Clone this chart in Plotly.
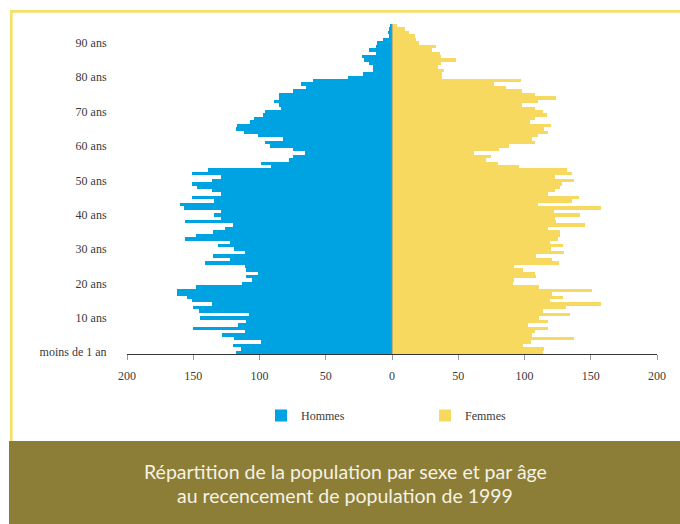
import plotly.graph_objects as go

ages = list(range(0, 96))
hommes = [118, 114, 120, 99, 119, 128, 111, 150, 116, 110,
          145, 108, 146, 150, 136, 151, 155, 162, 162, 148,
          113, 106, 110, 101, 110, 111, 141, 122, 135, 111,
          119, 131, 122, 156, 148, 135, 126, 120, 156, 129,
          134, 129, 157, 160, 134, 151, 129, 136, 147, 151,
          136, 129, 151, 139, 91, 99, 78, 75, 66, 75,
          92, 96, 82, 101, 112, 118, 117, 107, 104, 97,
          96, 84, 85, 89, 85, 85, 75, 65, 69, 60,
          33, 22, 14, 14, 17, 21, 23, 12, 17, 12,
          11, 7, 2, 3, 2, 1]
femmes = [114, 115, 99, 105, 137, 106, 108, 118, 103, 118,
          111, 134, 114, 131, 158, 119, 129, 121, 151, 111,
          91, 92, 109, 108, 99, 92, 126, 121, 109, 130,
          120, 129, 119, 125, 127, 127, 118, 146, 124, 123,
          142, 122, 158, 110, 136, 141, 118, 123, 127, 128,
          137, 123, 136, 132, 96, 80, 71, 75, 62, 81,
          88, 108, 106, 110, 118, 115, 120, 104, 108, 117,
          114, 108, 98, 110, 124, 108, 98, 86, 77, 97,
          38, 38, 39, 35, 37, 48, 37, 36, 30, 33,
          20, 18, 17, 13, 10, 4]

y_tickvals = [0, 10, 20, 30, 40, 50, 60, 70, 80, 90]
y_ticktext = ["moins de 1 an", "10 ans", "20 ans", "30 ans", "40 ans",
              "50 ans", "60 ans", "70 ans", "80 ans", "90 ans"]
x_tickvals = [-200, -150, -100, -50, 0, 50, 100, 150, 200]
x_ticktext = ["200", "150", "100", "50", "0", "50", "100", "150", "200"]

title_line1 = "Répartition de la population par sexe et par âge"
title_line2 = "au recencement de population de 1999"

BLUE = "#00a3e1"
YELLOW = "#f7d960"
OLIVE = "#8c7e37"

W, H = 680, 524
ML, MR, MT, MB = 127, 23, 24, 170
PW, PH = W - ML - MR, H - MT - MB


def px(x):
    return (x - ML) / PW


def py(y):
    return (H - MB - y) / PH


fig = go.Figure()
fig.add_trace(go.Bar(
    y=ages, x=[-v for v in hommes], orientation="h", name="Hommes",
    marker=dict(color=BLUE, line=dict(width=0)),
    customdata=hommes, hovertemplate="%{y} ans: %{customdata}<extra>Hommes</extra>",
))
fig.add_trace(go.Bar(
    y=ages, x=femmes, orientation="h", name="Femmes",
    marker=dict(color=YELLOW, line=dict(width=0)),
    hovertemplate="%{y} ans: %{x}<extra>Femmes</extra>",
))

serif = "Liberation Serif, Times New Roman, serif"
title_font = dict(family="Lato, Liberation Sans, sans-serif", size=19.5, color="#f6f2e4")

fig.update_layout(
    width=W, height=H,
    margin=dict(l=ML, r=MR, t=MT, b=MB, pad=0),
    paper_bgcolor="white", plot_bgcolor="white",
    barmode="relative", bargap=0,
    font=dict(family=serif, size=12, color="#3a3a3a"),
    showlegend=True,
    legend=dict(
        orientation="h", x=px(261), xanchor="left", y=py(401), yanchor="top",
        entrywidth=119, entrywidthmode="pixels", itemwidth=30,
        font=dict(family=serif, size=12, color="#3a3a3a"),
        bgcolor="rgba(0,0,0,0)", borderwidth=0,
    ),
    xaxis=dict(
        range=[-200, 200], tickvals=x_tickvals, ticktext=x_ticktext,
        showgrid=False, zeroline=False,
        showline=True, linecolor="#333333", linewidth=1.3,
        ticks="outside", ticklen=5, tickwidth=1, tickcolor="#999999",
        ticklabelstandoff=5,
        tickfont=dict(family=serif, size=12, color="#3a3a3a"),
        fixedrange=True,
    ),
    yaxis=dict(
        range=[-0.5, 95.5], tickvals=y_tickvals, ticktext=y_ticktext,
        showgrid=False, zeroline=False, showline=False,
        ticks="outside", ticklen=17, tickcolor="rgba(0,0,0,0)",
        tickfont=dict(family=serif, size=12, color="#3a3a3a"),
        fixedrange=True,
    ),
    shapes=[
        dict(type="line", xref="x", yref="paper", x0=0, x1=0, y0=0, y1=1,
             line=dict(color="#8a8a8a", width=1), layer="above"),
        dict(type="line", xref="paper", yref="paper", x0=px(10), x1=px(680),
             y0=py(11.3), y1=py(11.3), line=dict(color="#f9de6c", width=2.7)),
        dict(type="line", xref="paper", yref="paper", x0=px(11.3), x1=px(11.3),
             y0=py(10), y1=py(441), line=dict(color="#f9de6c", width=2.7)),
        dict(type="rect", xref="paper", yref="paper", x0=px(9), x1=px(681),
             y0=py(441), y1=py(525), fillcolor=OLIVE, line=dict(width=0)),
    ],
    annotations=[
        dict(text=title_line1, xref="paper", yref="paper", x=px(345), y=py(471),
             xanchor="center", yanchor="middle", showarrow=False, font=title_font),
        dict(text=title_line2, xref="paper", yref="paper", x=px(345), y=py(496),
             xanchor="center", yanchor="middle", showarrow=False, font=title_font),
    ],
)

fig.write_html(
    "out.html",
    config={"displayModeBar": False},
    post_script="document.body.style.margin='0';document.body.style.padding='0';",
)
